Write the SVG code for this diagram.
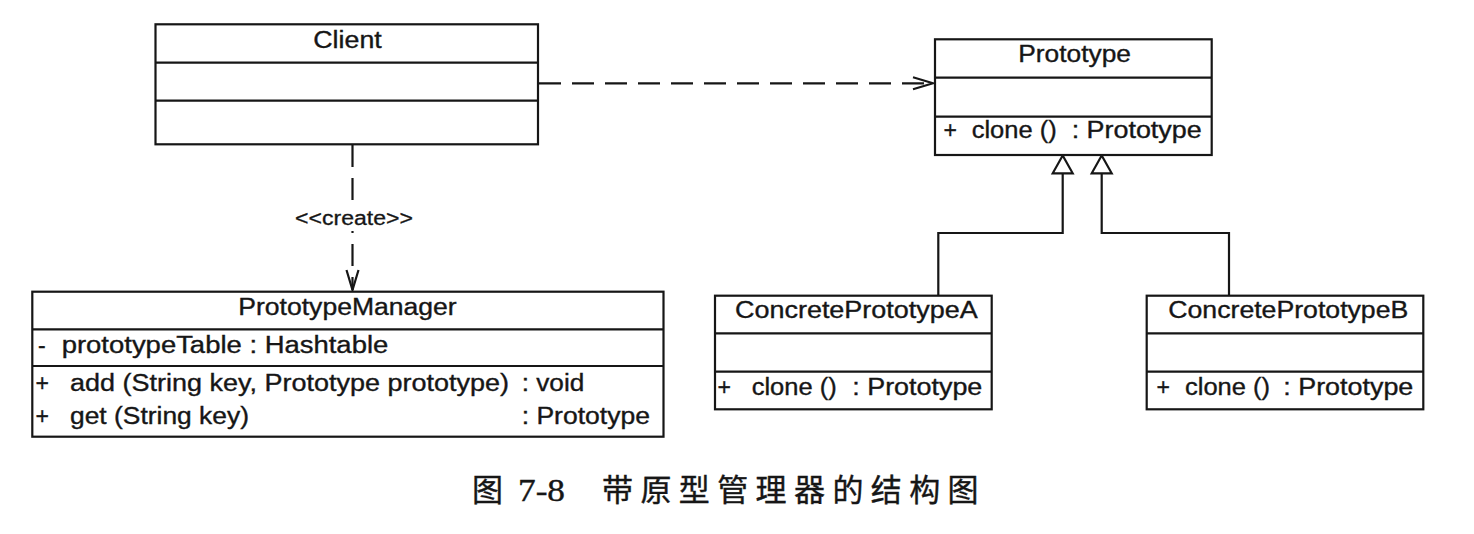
<svg xmlns="http://www.w3.org/2000/svg" width="1474" height="534" viewBox="0 0 1474 534">
<style>
.box{fill:#fff;stroke:#161616;stroke-width:2.2}
.div{stroke:#161616;stroke-width:2.2}
.t{font-family:"Liberation Sans",Arial,sans-serif;font-size:23px;fill:#161616;stroke:#161616;stroke-width:0.35}
.lbl{font-family:"Liberation Sans",Arial,sans-serif;font-size:20px;fill:#161616;stroke:#161616;stroke-width:0.3}
.dash{fill:none;stroke:#161616;stroke-width:2.2;stroke-dasharray:22 11}
.solid{fill:none;stroke:#161616;stroke-width:2.2}
.cap{font-family:"Liberation Serif","Noto Sans CJK SC",serif;font-size:31px;fill:#161616;stroke:#161616;stroke-width:0.4}
</style>
<defs>
<marker id="open" viewBox="0 0 24 16" refX="22" refY="8" markerWidth="24" markerHeight="16" markerUnits="userSpaceOnUse" orient="auto">
<path d="M2,2 L22,8 L2,14" fill="none" stroke="#161616" stroke-width="2.2"/>
</marker>
</defs>
<rect width="1474" height="534" fill="#fff"/>

<g id="connectors">
<line class="dash" x1="539" y1="83.3" x2="933" y2="83.3" marker-end="url(#open)"/>
<line class="dash" x1="352.5" y1="145" x2="352.5" y2="290" marker-end="url(#open)"/>
<rect x="292" y="205" width="124" height="26" fill="#fff"/>
<text class="lbl" x="295" y="225" textLength="118" lengthAdjust="spacingAndGlyphs">&lt;&lt;create&gt;&gt;</text>
<path class="solid" d="M938.3,295.7 V233 H1062.7 V173.3"/>
<path class="solid" d="M1229,295.7 V233 H1101.7 V173.3"/>
<path class="solid" d="M1062.7,155.5 L1052.7,173.3 L1072.7,173.3 Z" fill="#fff"/>
<path class="solid" d="M1101.7,155.5 L1091.7,173.3 L1111.7,173.3 Z" fill="#fff"/>
</g>

<g id="client">
<rect class="box" x="155.5" y="24.3" width="382.5" height="120"/>
<line class="div" x1="155.5" y1="62.7" x2="538" y2="62.7"/>
<line class="div" x1="155.5" y1="100.7" x2="538" y2="100.7"/>
<text class="t" x="313.3" y="47.5" textLength="68.4" lengthAdjust="spacingAndGlyphs">Client</text>
</g>

<g id="prototype">
<rect class="box" x="935" y="39.3" width="276.7" height="115.7"/>
<line class="div" x1="935" y1="77.7" x2="1211.7" y2="77.7"/>
<line class="div" x1="935" y1="116.7" x2="1211.7" y2="116.7"/>
<text class="t" x="1018.3" y="61.7" textLength="112.7" lengthAdjust="spacingAndGlyphs">Prototype</text>
<text class="t" x="943.5" y="138.3">+</text>
<text class="t" x="971.7" y="138.3" textLength="85" lengthAdjust="spacingAndGlyphs">clone ()</text>
<text class="t" x="1071.7" y="138.3" textLength="130" lengthAdjust="spacingAndGlyphs">: Prototype</text>
</g>

<g id="prototypeManager">
<rect class="box" x="32.3" y="291.7" width="631.2" height="145"/>
<line class="div" x1="32.3" y1="329.3" x2="663.5" y2="329.3"/>
<line class="div" x1="32.3" y1="366" x2="663.5" y2="366"/>
<text class="t" x="238.3" y="315" textLength="218.4" lengthAdjust="spacingAndGlyphs">PrototypeManager</text>
<text class="t" x="38" y="353">-</text>
<text class="t" x="61.7" y="353" textLength="326.6" lengthAdjust="spacingAndGlyphs">prototypeTable : Hashtable</text>
<text class="t" x="35.5" y="391">+</text>
<text class="t" x="70" y="391" textLength="439" lengthAdjust="spacingAndGlyphs">add (String key, Prototype prototype)</text>
<text class="t" x="521.7" y="391" textLength="62.6" lengthAdjust="spacingAndGlyphs">: void</text>
<text class="t" x="35.5" y="423.5">+</text>
<text class="t" x="70" y="423.5" textLength="179" lengthAdjust="spacingAndGlyphs">get (String key)</text>
<text class="t" x="521.7" y="423.5" textLength="128.3" lengthAdjust="spacingAndGlyphs">: Prototype</text>
</g>

<g id="concretePrototypeA">
<rect class="box" x="715" y="295.7" width="276.7" height="113.6"/>
<line class="div" x1="715" y1="333.3" x2="991.7" y2="333.3"/>
<line class="div" x1="715" y1="371.7" x2="991.7" y2="371.7"/>
<text class="t" x="735" y="318.3" textLength="242.7" lengthAdjust="spacingAndGlyphs">ConcretePrototypeA</text>
<text class="t" x="717.5" y="395">+</text>
<text class="t" x="751.7" y="395" textLength="85" lengthAdjust="spacingAndGlyphs">clone ()</text>
<text class="t" x="852.3" y="395" textLength="130" lengthAdjust="spacingAndGlyphs">: Prototype</text>
</g>

<g id="concretePrototypeB">
<rect class="box" x="1146.7" y="295.7" width="276.6" height="113.6"/>
<line class="div" x1="1146.7" y1="333.3" x2="1423.3" y2="333.3"/>
<line class="div" x1="1146.7" y1="371.7" x2="1423.3" y2="371.7"/>
<text class="t" x="1168.3" y="318.3" textLength="240" lengthAdjust="spacingAndGlyphs">ConcretePrototypeB</text>
<text class="t" x="1156.5" y="395">+</text>
<text class="t" x="1185" y="395" textLength="85" lengthAdjust="spacingAndGlyphs">clone ()</text>
<text class="t" x="1283.3" y="395" textLength="130" lengthAdjust="spacingAndGlyphs">: Prototype</text>
</g>

<g id="caption">
<text class="cap" x="472" y="501">图</text>
<text class="cap" x="518" y="501" textLength="47" lengthAdjust="spacingAndGlyphs">7-8</text>
<text class="cap" x="602 640.4 678.8 717.2 755.6 794 832.4 870.8 909.2 947.6" y="501">带原型管理器的结构图</text>
</g>
</svg>
